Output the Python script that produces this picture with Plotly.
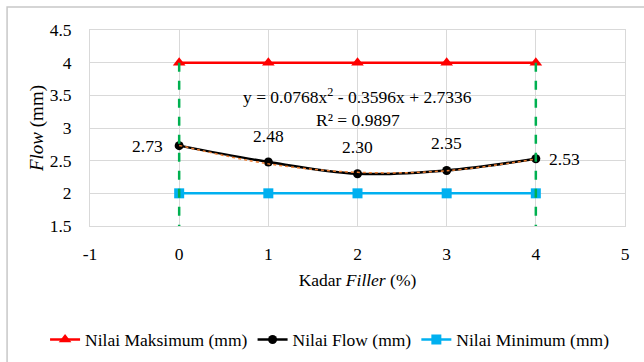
import plotly.graph_objects as go

kadar = [0, 1, 2, 3, 4]
nilai_maks = [4, 4, 4, 4, 4]
nilai_flow = [2.73, 2.48, 2.30, 2.35, 2.53]
nilai_min = [2, 2, 2, 2, 2]
flow_labels = ["2.73", "2.48", "2.30", "2.35", "2.53"]
trend_coef = [0.0768, -0.3596, 2.7336]
batas_x = [0, 4]
batas_y = [4, 1.5]
x_ticks = [-1, 0, 1, 2, 3, 4, 5]
x_ticktext = ["-1", "0", "1", "2", "3", "4", "5"]
y_ticks = [1.5, 2, 2.5, 3, 3.5, 4, 4.5]
y_ticktext = ["1.5", "2", "2.5", "3", "3.5", "4", "4.5"]

# label offsets in pixels (layout only)
label_shift = [(-32, 0), (0, 26), (0, 27), (0, 27), (29, 0)]

FONT = "Liberation Serif"
FS = 17.5

trend_y = [trend_coef[0] * x ** 2 + trend_coef[1] * x + trend_coef[2] for x in kadar]

fig = go.Figure()
fig.add_trace(go.Scatter(x=kadar, y=nilai_maks, mode="lines+markers", name="Nilai Maksimum (mm)",
                         line=dict(color="#FF0000", width=2.5),
                         marker=dict(symbol="triangle-up", size=11, color="#FF0000")))
fig.add_trace(go.Scatter(x=kadar, y=nilai_flow, mode="lines+markers", name="Nilai Flow (mm)",
                         line=dict(color="#000000", width=2.5, shape="spline"),
                         marker=dict(symbol="circle", size=9, color="#000000")))
fig.add_trace(go.Scatter(x=kadar, y=nilai_min, mode="lines+markers", name="Nilai Minimum (mm)",
                         line=dict(color="#00B0F0", width=2.5),
                         marker=dict(symbol="square", size=10, color="#00B0F0")))
fig.add_trace(go.Scatter(x=kadar, y=trend_y, mode="lines", showlegend=False, hoverinfo="skip",
                         line=dict(color="#ED7D31", width=1.5, dash="dot", shape="spline")))
for bx in batas_x:
    fig.add_trace(go.Scatter(x=[bx, bx], y=batas_y, mode="lines", showlegend=False, hoverinfo="skip",
                             line=dict(color="#00B050", width=2.5, dash="dash")))

for xv, yv, lab, (dx, dy) in zip(kadar, nilai_flow, flow_labels, label_shift):
    fig.add_annotation(x=xv, y=yv, text=lab, showarrow=False, xshift=dx, yshift=dy,
                       font=dict(family=FONT, size=FS, color="#000000"))

fig.add_annotation(x=2.0, y=3.49, xref="x", yref="y", showarrow=False,
                   text="y = 0.0768x<sup>2</sup> - 0.3596x + 2.7336",
                   font=dict(family=FONT, size=FS, color="#000000"))
fig.add_annotation(x=2.0, y=3.12, xref="x", yref="y", showarrow=False,
                   text="R² = 0.9897",
                   font=dict(family=FONT, size=FS, color="#000000"))

# outer chart border
fig.add_shape(type="rect", xref="paper", yref="paper", x0=-0.155, x1=1.3, y0=-1.0, y1=1.117,
              line=dict(color="#C8C8C8", width=1.5), layer="below")

fig.update_layout(
    width=644, height=362,
    margin=dict(l=90, r=19, t=30, b=136, autoexpand=False),
    paper_bgcolor="white", plot_bgcolor="white",
    font=dict(family=FONT, size=FS, color="#000000"),
    showlegend=True,
    legend=dict(orientation="h", x=-0.084, y=-0.58, xanchor="left", yanchor="middle",
                font=dict(family=FONT, size=FS), tracegroupgap=0, bgcolor="rgba(0,0,0,0)"),
    xaxis=dict(range=[-1, 5], tickvals=x_ticks, ticktext=x_ticktext,
               showgrid=True, gridcolor="#D9D9D9", gridwidth=1,
               zeroline=False, showline=True, linecolor="#D9D9D9", mirror=True,
               ticks="", tickfont=dict(family=FONT, size=FS), ticklabelstandoff=12,
               title=dict(text="Kadar <i>Filler</i> (%)", font=dict(family=FONT, size=FS), standoff=10)),
    yaxis=dict(range=[1.5, 4.5], tickvals=y_ticks, ticktext=y_ticktext,
               showgrid=True, gridcolor="#D9D9D9", gridwidth=1,
               zeroline=False, showline=True, linecolor="#D9D9D9", mirror=True,
               ticks="", tickfont=dict(family=FONT, size=FS), ticklabelstandoff=14,
               title=dict(text="<i>Flow</i> (mm)", font=dict(family=FONT, size=19), standoff=0)),
)

fig.write_html("out.html", config={"displayModeBar": False},
               post_script="document.body.style.margin='0';")
